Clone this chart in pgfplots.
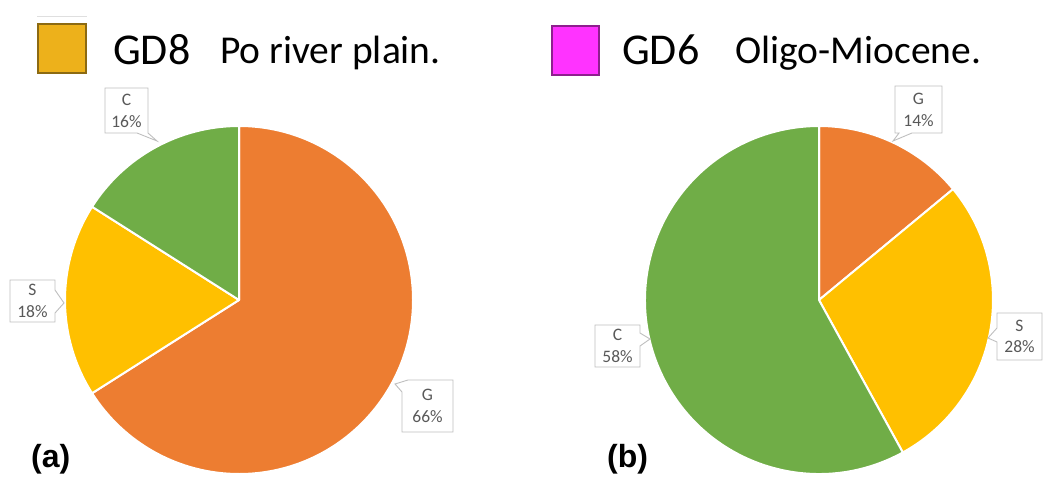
\documentclass[border=0pt]{standalone}
\usepackage{pgfplots}
\pgfplotsset{compat=1.18}
\usepackage{pgfplotstable}
\usepackage{fontspec}
\setmainfont{Carlito}
\newfontfamily\arialfont{Liberation Sans}
\definecolor{pieG}{HTML}{ED7D31}
\definecolor{pieS}{HTML}{FFC000}
\definecolor{pieC}{HTML}{70AD47}
\definecolor{lblgray}{HTML}{595959}
\definecolor{boxgray}{HTML}{BFBFBF}
\definecolor{goldbox}{HTML}{EDB11B}
\definecolor{goldedge}{HTML}{8C6A12}
\definecolor{magbox}{HTML}{FF33FF}
\definecolor{magedge}{HTML}{8E1F8E}

\pgfplotstableread{
name value
G 66
S 18
C 16
}\pieA
\pgfplotstableread{
name value
G 14
S 28
C 58
}\pieB

\newcommand\slice[5]{\fill[#5, draw=white, line width=2pt, line join=round] (axis cs:#1,#2) -- ++(#3:174pt) arc[start angle=#3, end angle=#4, radius=174pt] -- cycle;}
\newcommand\lbl[4]{\node[align=center, text=lblgray, font=\fontsize{17.5}{21.5}\selectfont, inner sep=0pt] at (axis cs:#1,#2) {#3\\#4};}

\begin{document}%
\begin{tikzpicture}
\pgfplotstablegetelem{0}{value}\of\pieA \pgfmathsetmacro\aGe{90-3.6*\pgfplotsretval}
\pgfplotstablegetelem{1}{value}\of\pieA \pgfmathsetmacro\aSe{\aGe-3.6*\pgfplotsretval}
\pgfplotstablegetelem{2}{value}\of\pieA \pgfmathsetmacro\aCe{\aSe-3.6*\pgfplotsretval}
\pgfplotstablegetelem{0}{value}\of\pieB \pgfmathsetmacro\bGe{90-3.6*\pgfplotsretval}
\pgfplotstablegetelem{1}{value}\of\pieB \pgfmathsetmacro\bSe{\bGe-3.6*\pgfplotsretval}
\pgfplotstablegetelem{2}{value}\of\pieB \pgfmathsetmacro\bCe{\bSe-3.6*\pgfplotsretval}
\begin{axis}[width=1060pt, height=500pt, scale only axis,
  xmin=0, xmax=1060, ymin=0, ymax=500, y dir=reverse,
  enlargelimits=false, hide axis, clip=false]
% pie (a)
\slice{239}{300}{90}{\aGe}{pieG}
\slice{239}{300}{\aGe}{\aSe}{pieS}
\slice{239}{300}{\aSe}{\aCe}{pieC}
% pie (b)
\slice{819}{300}{90}{\bGe}{pieG}
\slice{819}{300}{\bGe}{\bSe}{pieS}
\slice{819}{300}{\bSe}{\bCe}{pieC}
% callouts (a)
\draw[boxgray, fill=white, line width=0.9pt] (axis cs:105,88) -- (axis cs:148,88) -- (axis cs:148,133) -- (axis cs:157,141) -- (axis cs:137,133) -- (axis cs:105,133) -- cycle;
\lbl{126.5}{111}{C}{16\%}
\draw[boxgray, fill=white, line width=0.9pt] (axis cs:10,280) -- (axis cs:55,280) -- (axis cs:55,290) -- (axis cs:64,303) -- (axis cs:55,313) -- (axis cs:55,322) -- (axis cs:10,322) -- cycle;
\lbl{32.5}{301}{S}{18\%}
\draw[boxgray, fill=white, line width=0.9pt] (axis cs:408,380) -- (axis cs:453,380) -- (axis cs:453,432) -- (axis cs:402,432) -- (axis cs:402,392) -- (axis cs:395,384) -- cycle;
\lbl{427.5}{406}{G}{66\%}
% callouts (b)
\draw[boxgray, fill=white, line width=0.9pt] (axis cs:895,86) -- (axis cs:942,86) -- (axis cs:942,133) -- (axis cs:912,133) -- (axis cs:893,141) -- (axis cs:899,133) -- (axis cs:895,133) -- cycle;
\lbl{918.5}{110}{G}{14\%}
\draw[boxgray, fill=white, line width=0.9pt] (axis cs:595,325) -- (axis cs:640,325) -- (axis cs:640,333) -- (axis cs:650,339) -- (axis cs:640,346) -- (axis cs:640,367) -- (axis cs:595,367) -- cycle;
\lbl{617.5}{346}{C}{58\%}
\draw[boxgray, fill=white, line width=0.9pt] (axis cs:997,313) -- (axis cs:1042,313) -- (axis cs:1042,360) -- (axis cs:997,360) -- (axis cs:997,342) -- (axis cs:988,338) -- (axis cs:997,328) -- cycle;
\lbl{1019.5}{336.5}{S}{28\%}
% legend-like titles
\draw[gray!25, line width=1pt] (axis cs:37,17) -- (axis cs:87,17);
\filldraw[fill=goldbox, draw=goldedge, line width=1.8pt] (axis cs:38,24) rectangle (axis cs:86,73);
\node[anchor=base west, inner sep=0pt, font=\fontsize{44}{44}\selectfont] at (axis cs:113,65) {GD8};
\node[anchor=base west, inner sep=0pt, font=\fontsize{39.5}{39.5}\selectfont] at (axis cs:220,64) {Po river plain.};
\filldraw[fill=magbox, draw=magedge, line width=1.8pt] (axis cs:552,26) rectangle (axis cs:599,75);
\node[anchor=base west, inner sep=0pt, font=\fontsize{44}{44}\selectfont] at (axis cs:622,65) {GD6};
\node[anchor=base west, inner sep=0pt, font=\fontsize{39.5}{39.5}\selectfont] at (axis cs:735,64) {Oligo-Miocene.};
% panel labels
\node[anchor=base west, inner sep=0pt, font=\arialfont\bfseries\fontsize{32}{32}\selectfont] at (axis cs:31,467) {(a)};
\node[anchor=base west, inner sep=0pt, font=\arialfont\bfseries\fontsize{32}{32}\selectfont] at (axis cs:607,467) {(b)};
\end{axis}
\pgfresetboundingbox
\path[use as bounding box] (current axis.south west) rectangle (current axis.north east);
\end{tikzpicture}%
\end{document}
